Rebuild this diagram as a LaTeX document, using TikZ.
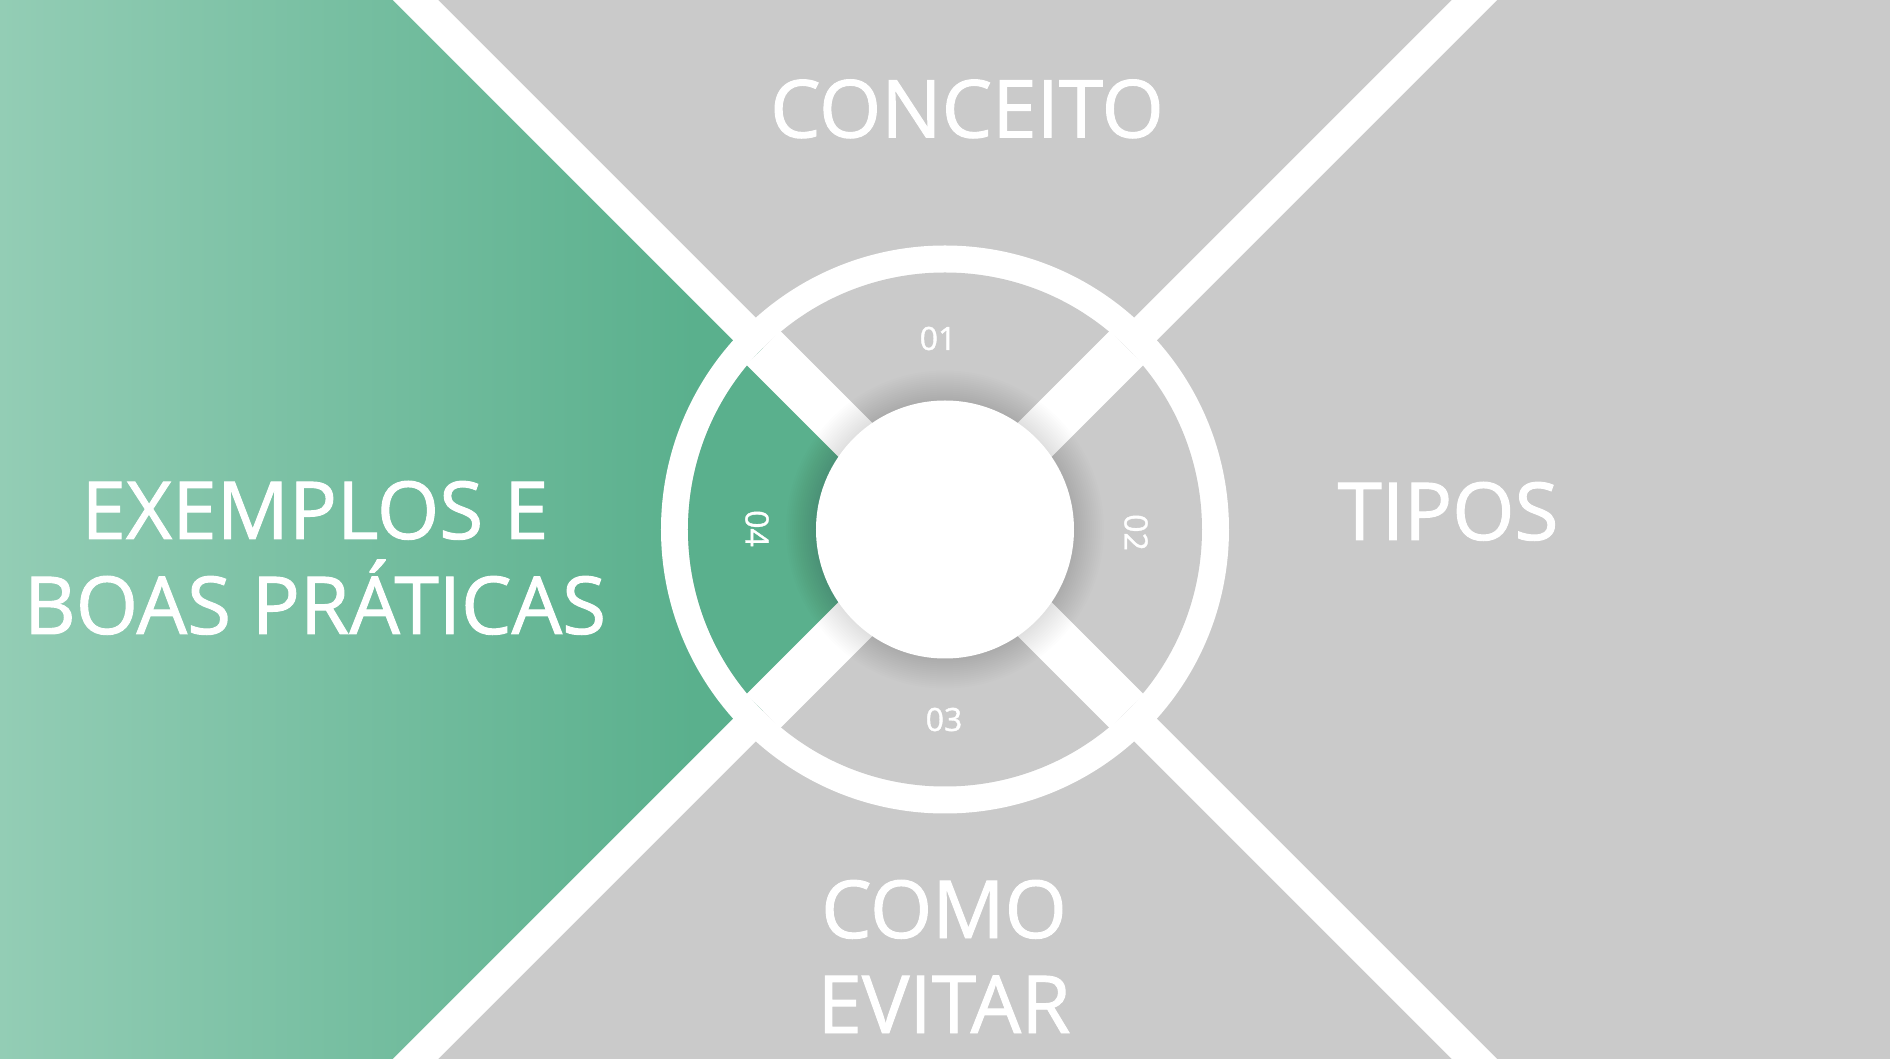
\documentclass[tikz,border=0pt]{standalone}
\usepackage{fontspec}
\setmainfont{Open Sans}
\newfontfamily\slidefont{Open Sans}[FakeBold=1.2]
\definecolor{slidegray}{HTML}{CACACA}
\definecolor{mintlight}{HTML}{93CDB5}
\definecolor{mintdark}{HTML}{5AB08D}
\tikzset{
BAND/.style={draw=white, line cap=butt, line width=#1},
BAND/.default=16pt,
TITLE/.style={text=white, font=\slidefont\fontsize{40}{47.5}\selectfont, align=center, anchor=base},
NUMBER/.style={text=white, font=\slidefont\fontsize{16}{19}\selectfont},
}

\begin{document}
\begin{tikzpicture}
[x=0.5pt, y=0.5pt]
	\useasboundingbox (-945,-529.5) rectangle (945,529.5);
	\clip (-945,-529.5) rectangle (945,529.5);
	\fill[slidegray] (-945,-529.5) rectangle (945,529.5);
	\begin{scope}
	\clip (-945,-529.5) -- (-945,529.5) -- (-529.5,529.5) -- (0,0) -- (-529.5,-529.5) -- cycle;
	\shade[left color=mintlight, right color=mintdark] (-945,-529.5) rectangle (-250,529.5);
	\fill[mintdark] (-250,-529.5) rectangle (0,529.5);
	\end{scope}
	\foreach \a in {45,135} {
	\draw[BAND] (\a+180:1200) -- (\a:1200);}
	% ring and segments
	\fill[white] (0,0) circle (284);
	\fill[slidegray] (0,0) circle (257);
	\fill[mintdark] (0,0) -- (135:257) arc (135:225:257) -- cycle;
	\foreach \a in {45,135} {
	\draw[BAND=24pt] (\a+180:257) -- (\a:257);}
	\foreach \r in {1,...,15} {
	\fill[black, opacity=0.009] (0,0) circle[radius=129+2*\r];}
	\fill[white] (0,0) circle (129);
	\node[NUMBER] (n01) at (-7,191) {01};
	\node[NUMBER, rotate=-90] (n02) at (191,-3) {02};
	\node[NUMBER] (n03) at (-1,-190) {03};
	\node[NUMBER, rotate=-90] (n04) at (-188,1) {04};
	\node[TITLE] (conceito) at (22,392) {CONCEITO};
	\node[TITLE] (tipos) at (503,-10.5) {TIPOS};
	\node[TITLE] (exemplos) at (-630,-104.5) {EXEMPLOS E\\BOAS PRÁTICAS};
	\node[TITLE] (evitar) at (-1,-503.5) {COMO\\EVITAR};
\end{tikzpicture}
\end{document}
